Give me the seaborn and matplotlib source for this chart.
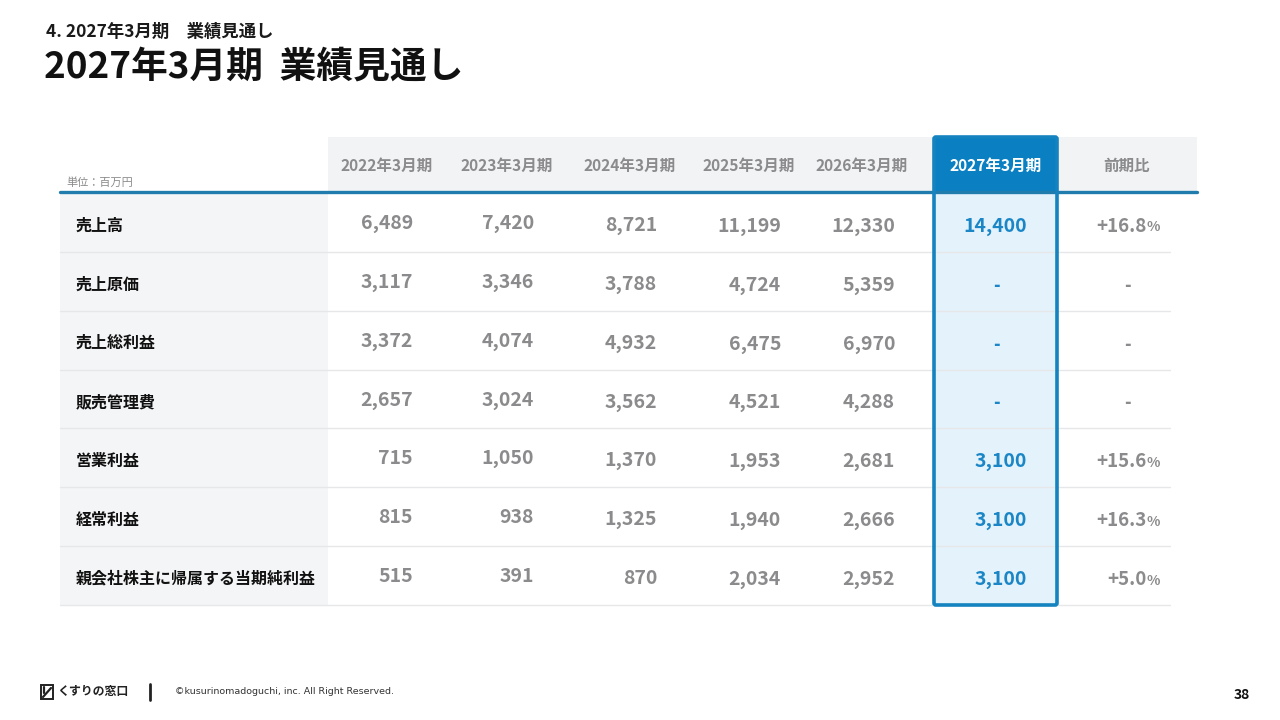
import matplotlib
matplotlib.use("Agg")
import matplotlib.pyplot as plt
from matplotlib.patches import Rectangle, FancyBboxPatch
import seaborn as sns
import pandas as pd

sns.set_theme(style="white")
plt.rcParams['font.family'] = ['Noto Sans CJK JP', 'DejaVu Sans']

# ---------------- data ----------------
section_label = "4. 2027年3月期　業績見通し"
title = "2027年3月期  業績見通し"
unit_label = "単位：百万円"
categories = ["売上高", "売上原価", "売上総利益", "販売管理費",
              "営業利益", "経常利益", "親会社株主に帰属する当期純利益"]
periods = ["2022年3月期", "2023年3月期", "2024年3月期",
           "2025年3月期", "2026年3月期", "2027年3月期"]
fy2022 = [6489, 3117, 3372, 2657, 715, 815, 515]
fy2023 = [7420, 3346, 4074, 3024, 1050, 938, 391]
fy2024 = [8721, 3788, 4932, 3562, 1370, 1325, 870]
fy2025 = [11199, 4724, 6475, 4521, 1953, 1940, 2034]
fy2026 = [12330, 5359, 6970, 4288, 2681, 2666, 2952]
fy2027 = [14400, None, None, None, 3100, 3100, 3100]
yoy_label = "前期比"
yoy_pct = [16.8, None, None, None, 15.6, 16.3, 5.0]
footer_brand = "くすりの窓口"
footer_copy = "©kusurinomadoguchi, inc. All Right Reserved."
page_no = "38"

df = pd.DataFrame(dict(zip(periods, [fy2022, fy2023, fy2024, fy2025, fy2026, fy2027])),
                  index=categories)
df[yoy_label] = yoy_pct

# ---------------- layout ----------------
fig = plt.figure(figsize=(12.8, 7.2), dpi=100)
fig.patch.set_facecolor("white")
ax = fig.add_axes([0, 0, 1, 1])
ax.set_xlim(0, 1280)
ax.set_ylim(720, 0)
ax.axis("off")

GRAY_TXT = "#8b8b8d"
BLUE = "#0a80c3"
BLUE_TXT = "#1a86c6"
LEFT, LABEL_R, RIGHT, SEP_R = 60, 328, 1197, 1170
HEAD_TOP, HEAD_BOT = 137, 192
BODY_TOP, BODY_BOT = 193, 605
n = len(categories)
row_h = (BODY_BOT - BODY_TOP) / n
HL_L, HL_R = 934, 1057

head_centers = [387, 507, 630, 749, 862, 996, 1127]
num_right = [413, 534, 657, 781, 895, 1027, 1160]
col_dy = [-3, -3, -1, 0, 0, 0, 0]

# backgrounds
ax.add_patch(Rectangle((LABEL_R, HEAD_TOP), RIGHT - LABEL_R, HEAD_BOT - HEAD_TOP,
                       facecolor="#f2f3f5", edgecolor="none", zorder=1))
ax.add_patch(Rectangle((LEFT, BODY_TOP), LABEL_R - LEFT, BODY_BOT - BODY_TOP,
                       facecolor="#f4f5f7", edgecolor="none", zorder=1))
ax.add_patch(Rectangle((HL_L, BODY_TOP), HL_R - HL_L, BODY_BOT - BODY_TOP,
                       facecolor="#e4f2fc", edgecolor="none", zorder=1))
ax.add_patch(Rectangle((HL_L, HEAD_TOP), HL_R - HL_L, HEAD_BOT - HEAD_TOP + 1,
                       facecolor=BLUE, edgecolor="none", zorder=2))

# separators
for i in range(1, n + 1):
    y = BODY_TOP + i * row_h
    ax.plot([LEFT, SEP_R], [y, y], color="#e6e7e9", lw=1.0, zorder=1.5)
ax.plot([LEFT, RIGHT], [HEAD_BOT, HEAD_BOT], color="#1f7cad", lw=2.4, zorder=3)

# highlight border
ax.add_patch(FancyBboxPatch((HL_L, HEAD_TOP), HL_R - HL_L, BODY_BOT - HEAD_TOP,
                            boxstyle="round,pad=0,rounding_size=2",
                            facecolor="none", edgecolor="#1583bf", lw=2.6, zorder=4))

# titles
ax.text(46, 32, section_label, fontsize=12.5, fontweight="bold", color="#1a1a1a",
        va="center", ha="left")
ax.text(44, 67, title, fontsize=26.5, fontweight="bold", color="#111111",
        va="center", ha="left")
ax.text(66, 183, unit_label, fontsize=8, color="#8a8a8a", va="center", ha="left")

# header
headers = list(df.columns)
for j, h in enumerate(headers):
    is_hl = (j == 5)
    ax.text(head_centers[j], 166, h, fontsize=11.2, fontweight="bold",
            color="white" if is_hl else GRAY_TXT, ha="center", va="center", zorder=5)

fig.canvas.draw()
renderer = fig.canvas.get_renderer()

# body
for i, cat in enumerate(categories):
    yc = BODY_TOP + (i + 0.5) * row_h + 3
    ax.text(76, yc, cat, fontsize=11.5, fontweight="bold", color="#111111",
            ha="left", va="center", zorder=5)
    for j, col in enumerate(headers):
        v = df.loc[cat, col]
        y = yc + col_dy[j] + 1
        color = BLUE_TXT if j == 5 else GRAY_TXT
        if pd.isna(v):
            ax.text(head_centers[j], y, "-", fontsize=13, fontweight="bold",
                    color=color, ha="center", va="center", zorder=5)
        elif j < 6:
            ax.text(num_right[j], y, f"{int(v):,}", fontsize=14, fontweight="bold",
                    color=color, ha="right", va="center", zorder=5)
        else:
            pct = ax.text(num_right[j], y + 1, "%", fontsize=10, fontweight="bold",
                          color=color, ha="right", va="center", zorder=5)
            bb = pct.get_window_extent(renderer=renderer)
            ax.text(num_right[j] - bb.width, y, f"+{v:.1f}", fontsize=13.5,
                    fontweight="bold", color=color, ha="right", va="center", zorder=5)

# footer
ax.add_patch(Rectangle((40.5, 685), 12, 14, facecolor="none", edgecolor="#222222", lw=1.4))
ax.plot([43, 51], [697, 688], color="#222222", lw=1.6)
ax.plot([44, 44], [687, 693], color="#222222", lw=1.6)
ax.text(57, 692, footer_brand, fontsize=8.6, fontweight="bold", color="#222222",
        ha="left", va="center")
ax.plot([150, 150], [684, 700], color="#222222", lw=2)
ax.text(175, 692, footer_copy, fontsize=6.8, color="#333333", ha="left", va="center",
        family=["DejaVu Sans"])
ax.text(1250, 695, page_no, fontsize=10, fontweight="bold", color="#111111",
        ha="right", va="center")

fig.savefig("out.png", dpi=100, facecolor="white")
